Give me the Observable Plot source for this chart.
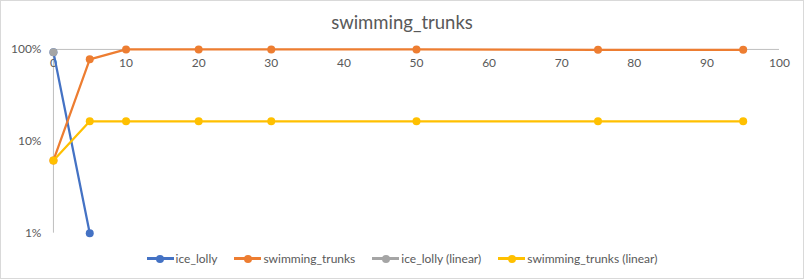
<!DOCTYPE html>
<html><head><meta charset="utf-8">
<script src="https://cdn.jsdelivr.net/npm/d3@7"></script>
<script src="https://cdn.jsdelivr.net/npm/@observablehq/plot@0.6"></script>
<style>
body{margin:0;background:#fff;}
#wrap{position:relative;width:802px;height:277px;border:1px solid #d9d9d9;background:#fff;font-family:Lato,"Open Sans",sans-serif;color:#595959;overflow:hidden;}
#title{position:absolute;top:10px;left:0;width:802px;text-align:center;font-size:18.5px;}
#chart{position:absolute;left:-1px;top:-1px;}
#legend{position:absolute;top:250px;left:0;width:802px;display:flex;justify-content:center;gap:17px;font-size:12px;}
.li{display:flex;align-items:center;}
.sw{position:relative;width:27px;height:3px;margin-right:2px;}
.sw i{position:absolute;left:9.5px;top:-2.5px;width:8px;height:8px;border-radius:50%;}
</style></head>
<body>
<div id="wrap"><div id="title">swimming_trunks</div><div id="chart"></div><div id="legend"></div></div>
<script>
const xTicks = [0,10,20,30,40,50,60,70,80,90,100];
const yTicks = [0.01,0.1,1];
const yTickLabels = ["1%","10%","100%"];
const seriesNames = ["ice_lolly","swimming_trunks","ice_lolly (linear)","swimming_trunks (linear)"];
const seriesColors = ["#4472c4","#ed7d31","#a5a5a5","#ffc000"];
const iceLollyX = [0,5];
const iceLollyY = [0.93,0.01];
const trunksX = [0,5,10,20,30,50,75,95];
const trunksY = [0.062,0.78,1,1,1,1,0.99,0.99];
const iceLinearX = [0];
const iceLinearY = [0.93];
const trunksLinearX = [0,5,10,20,30,50,75,95];
const trunksLinearY = [0.062,0.165,0.165,0.165,0.165,0.165,0.165,0.165];

const mk = (xs, ys, s) => xs.map((x,i)=>({x, y: ys[i], s}));
const data = [
  ...mk(iceLollyX, iceLollyY, seriesNames[0]),
  ...mk(trunksX, trunksY, seriesNames[1]),
  ...mk(iceLinearX, iceLinearY, seriesNames[2]),
  ...mk(trunksLinearX, trunksLinearY, seriesNames[3])
];
const order = [0,1,3,2];
const layers = [];
for (const k of order) {
  const d = data.filter(p=>p.s===seriesNames[k]);
  layers.push(Plot.line(d,{x:"x",y:"y",stroke:seriesColors[k],strokeWidth:2.25}));
  layers.push(Plot.dot(d,{x:"x",y:"y",fill:seriesColors[k],r:4}));
}
const chart = Plot.plot({
  width:804, height:279,
  marginTop:49, marginBottom:46, marginLeft:53, marginRight:24,
  style:{fontFamily:"Lato, 'Open Sans', sans-serif", fontSize:"12px", color:"#595959", background:"transparent"},
  x:{domain:[0,100], axis:null},
  y:{type:"log", domain:[0.01,1], axis:null},
  marks:[
    Plot.ruleY([1],{stroke:"#bfbfbf",strokeWidth:1}),
    Plot.ruleX([0],{stroke:"#bfbfbf",strokeWidth:1}),
    Plot.text(xTicks,{x:d=>d,y:()=>1,dy:14,fill:"#595959",fontSize:12}),
    Plot.text(yTicks,{x:()=>0,y:d=>d,text:(d,i)=>yTickLabels[i],dx:-12,textAnchor:"end",fill:"#595959",fontSize:12}),
    ...layers
  ]
});
document.getElementById("chart").appendChild(chart);
const lg = document.getElementById("legend");
seriesNames.forEach((n,i)=>{
  const el=document.createElement("div");el.className="li";
  el.innerHTML=`<span class="sw" style="background:${seriesColors[i]}"><i style="background:${seriesColors[i]}"></i></span><span>${n}</span>`;
  lg.appendChild(el);
});
</script>
</body></html>
